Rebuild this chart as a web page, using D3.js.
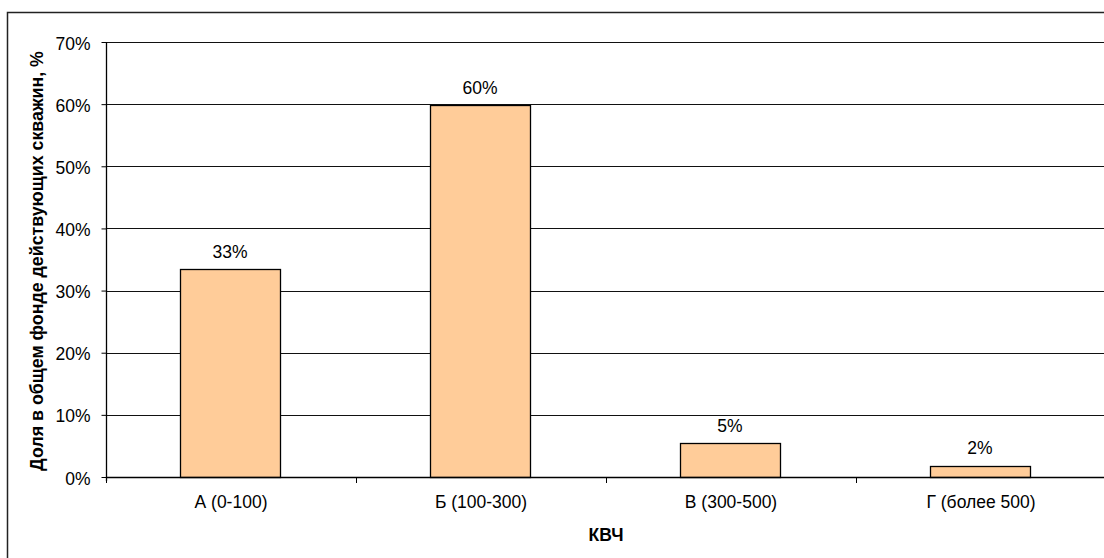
<!DOCTYPE html>
<html>
<head>
<meta charset="utf-8">
<script src="https://cdn.jsdelivr.net/npm/d3@7"></script>
<style>
  html, body { margin: 0; padding: 0; background: #fff; }
  svg { display: block; }
  text { font-family: "Liberation Sans", Arial, sans-serif; fill: #000; }
</style>
</head>
<body>
<svg id="chart" width="1104" height="558"></svg>
<script>
// Well-stock share by water-cut class (КВЧ)
const categories = ["А (0-100)", "Б (100-300)", "В (300-500)", "Г (более 500)"];
const shares = [0.334, 0.598, 0.054, 0.018];
const yTicks = [0, 0.1, 0.2, 0.3, 0.4, 0.5, 0.6, 0.7];
const yTitle = "Доля в общем фонде действующих скважин, %";
const xTitle = "КВЧ";

const svg = d3.select("#chart");
const pct = d3.format(".0%");
const FS = 17.5;

const plot = { left: 106, right: 1106, top: 42, bottom: 477 };

const x = d3.scaleBand()
  .domain(categories)
  .range([plot.left, plot.right])
  .paddingInner(0.6)
  .paddingOuter(0.3);

const y = d3.scaleLinear()
  .domain([0, 0.7])
  .range([plot.bottom, plot.top]);

// chart frame
svg.append("rect")
  .attr("x", 7.5).attr("y", 12.5)
  .attr("width", 1200).attr("height", 600)
  .attr("fill", "none")
  .attr("stroke", "#222")
  .attr("stroke-width", 1.5);

// horizontal gridlines
svg.append("g")
  .selectAll("line")
  .data(yTicks.filter(d => d > 0))
  .join("line")
  .attr("x1", plot.left).attr("x2", plot.right)
  .attr("y1", d => Math.round(y(d)) + 0.5)
  .attr("y2", d => Math.round(y(d)) + 0.5)
  .attr("stroke", "#111")
  .attr("stroke-width", 1);

// bars
svg.append("g")
  .selectAll("rect")
  .data(categories)
  .join("rect")
  .attr("x", d => Math.round(x(d)) - 0.5)
  .attr("y", (d, i) => Math.round(y(shares[i])) + 0.5)
  .attr("width", Math.round(x.bandwidth()))
  .attr("height", (d, i) => Math.round(y(0)) - Math.round(y(shares[i])))
  .attr("fill", "#FFCC99")
  .attr("stroke", "#000")
  .attr("stroke-width", 1.3);

// value labels
svg.append("g")
  .selectAll("text")
  .data(categories)
  .join("text")
  .attr("x", d => x(d) + x.bandwidth() / 2 - 1)
  .attr("y", (d, i) => y(shares[i]) - 11.5)
  .attr("text-anchor", "middle")
  .attr("font-size", FS)
  .text((d, i) => pct(shares[i]));

// y axis
const yAxis = svg.append("g")
  .attr("transform", `translate(${plot.left + 0.5},0)`)
  .call(d3.axisLeft(y).tickValues(yTicks).tickFormat(pct).tickSize(5).tickPadding(11));
yAxis.select(".domain").attr("stroke", "#000").attr("stroke-width", 1.3)
  .attr("d", `M0,${plot.top}V${plot.bottom + 4}`);
yAxis.selectAll(".tick line").attr("stroke", "#000");
yAxis.selectAll(".tick text")
  .attr("font-size", FS)
  .attr("dy", "0.4em")
  .attr("font-family", "Liberation Sans, Arial, sans-serif")
  .attr("fill", "#000");

// x axis line and category boundary ticks
const step = x.step();
const boundaries = categories.map(c => x(c) + x.bandwidth() / 2 - step / 2)
  .concat([x(categories[categories.length - 1]) + x.bandwidth() / 2 + step / 2]);

svg.append("line")
  .attr("x1", plot.left).attr("x2", plot.right)
  .attr("y1", Math.round(y(0)) + 0.5).attr("y2", Math.round(y(0)) + 0.5)
  .attr("stroke", "#000").attr("stroke-width", 1.3);

svg.append("g")
  .selectAll("line")
  .data(boundaries)
  .join("line")
  .attr("x1", d => Math.round(d) + 0.5).attr("x2", d => Math.round(d) + 0.5)
  .attr("y1", Math.round(y(0))).attr("y2", Math.round(y(0)) + 6)
  .attr("stroke", "#000");

// category labels
svg.append("g")
  .selectAll("text")
  .data(categories)
  .join("text")
  .attr("x", d => x(d) + x.bandwidth() / 2)
  .attr("y", 508)
  .attr("text-anchor", "middle")
  .attr("font-size", FS)
  .text(d => d);

// axis titles
svg.append("text")
  .attr("x", (plot.left + plot.right) / 2)
  .attr("y", 541)
  .attr("text-anchor", "middle")
  .attr("font-size", FS)
  .attr("font-weight", "bold")
  .text(xTitle);

svg.append("text")
  .attr("transform", `translate(43,261) rotate(-90)`)
  .attr("text-anchor", "middle")
  .attr("font-size", 17.8)
  .attr("font-weight", "bold")
  .text(yTitle);
</script>
</body>
</html>
